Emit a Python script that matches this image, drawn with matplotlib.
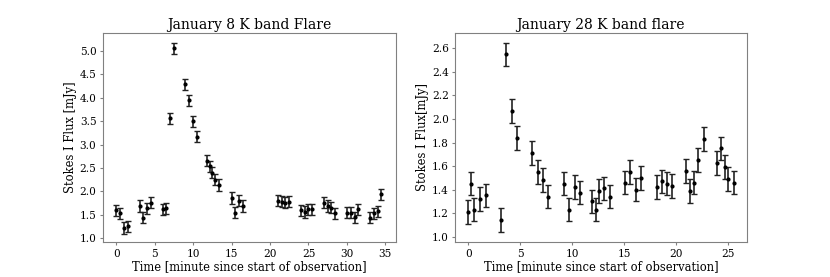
import numpy as np
import matplotlib
matplotlib.use("Agg")
import matplotlib.pyplot as plt

# ── Data ──────────────────────────────────────────────────────
jan8_t = [0.0, 0.48, 1.0, 1.47, 3.0, 3.47, 4.0, 4.46, 6.0, 6.5,
          7.0, 7.5, 8.97, 9.49, 10.0, 10.5, 11.83, 12.13, 12.48, 12.83,
          13.3, 15.0, 15.47, 16.0, 16.46, 20.97, 21.5, 21.97, 22.49, 24.0,
          24.52, 25.0, 25.48, 27.0, 27.5, 28.0, 28.5, 30.0, 30.5, 31.0,
          31.5, 33.0, 33.5, 34.0, 34.5]
jan8_flux = [1.60, 1.53, 1.22, 1.26, 1.69, 1.44, 1.64, 1.76, 1.62, 1.64,
             3.56, 5.06, 4.29, 3.95, 3.50, 3.17, 2.66, 2.54, 2.40, 2.25,
             2.14, 1.86, 1.55, 1.80, 1.69, 1.80, 1.78, 1.76, 1.78, 1.60,
             1.56, 1.62, 1.62, 1.76, 1.69, 1.65, 1.53, 1.55, 1.55, 1.45,
             1.62, 1.44, 1.53, 1.58, 1.94]
jan8_err = 0.12

jan28_t = [0.0, 0.26, 0.58, 1.13, 1.65, 3.13, 3.65, 4.16, 4.68, 6.16,
           6.68, 7.23, 7.71, 9.19, 9.71, 10.23, 10.74, 11.87, 12.26, 12.58,
           13.1, 13.6, 15.1, 15.6, 16.13, 16.65, 18.13, 18.61, 19.13, 19.65,
           20.97, 21.32, 21.68, 22.16, 22.68, 23.97, 24.32, 24.68, 25.03, 25.55]
jan28_flux = [1.21, 1.45, 1.23, 1.32, 1.35, 1.14, 2.55, 2.07, 1.84, 1.71,
              1.55, 1.48, 1.34, 1.45, 1.23, 1.42, 1.375, 1.30, 1.23, 1.39,
              1.41, 1.34, 1.46, 1.55, 1.40, 1.50, 1.42, 1.47, 1.45, 1.43,
              1.56, 1.39, 1.46, 1.65, 1.83, 1.625, 1.75, 1.59, 1.49, 1.46]
jan28_err = 0.10

plt.rcParams['font.family'] = 'DejaVu Serif'

fig = plt.figure(figsize=(8.3, 2.77), dpi=100)
ax1 = fig.add_axes([0.1237, 0.1253, 0.3534, 0.7567])
ax2 = fig.add_axes([0.5482, 0.1253, 0.3514, 0.7567])

SPINE = '#808080'

def style_ax(ax):
    for s in ax.spines.values():
        s.set_color(SPINE)
    ax.tick_params(colors=SPINE, labelcolor='black', length=2.5, pad=2,
                   labelsize=7.6)

ax1.errorbar(jan8_t, jan8_flux, yerr=jan8_err, fmt='o', color='black',
             ecolor='#222222', markersize=2, elinewidth=1.2, capsize=2, capthick=1)
ax1.set_title('January 8 K band Flare', fontsize=10, pad=3)
ax1.set_xlabel('Time [minute since start of observation]', fontsize=8.3, labelpad=1)
ax1.set_ylabel('Stokes I Flux [mJy]', fontsize=8.3, labelpad=2)
ax1.set_xlim(-1.8, 36.4)
ax1.set_ylim(0.915, 5.39)
ax1.set_xticks([0, 5, 10, 15, 20, 25, 30, 35])
ax1.set_yticks([1.0, 1.5, 2.0, 2.5, 3.0, 3.5, 4.0, 4.5, 5.0])
style_ax(ax1)

ax2.errorbar(jan28_t, jan28_flux, yerr=jan28_err, fmt='o', color='black',
             ecolor='#222222', markersize=2, elinewidth=1.2, capsize=2, capthick=1)
ax2.set_title('January 28 K band flare', fontsize=10, pad=3)
ax2.set_xlabel('Time [minute since start of observation]', fontsize=8.3, labelpad=1)
ax2.set_ylabel('Stokes I Flux[mJy]', fontsize=8.3, labelpad=2)
ax2.set_xlim(-1.29, 26.8)
ax2.set_ylim(0.952, 2.734)
ax2.set_xticks([0, 5, 10, 15, 20, 25])
ax2.set_yticks([1.0, 1.2, 1.4, 1.6, 1.8, 2.0, 2.2, 2.4, 2.6])
style_ax(ax2)

fig.savefig('out.png', dpi=100)
